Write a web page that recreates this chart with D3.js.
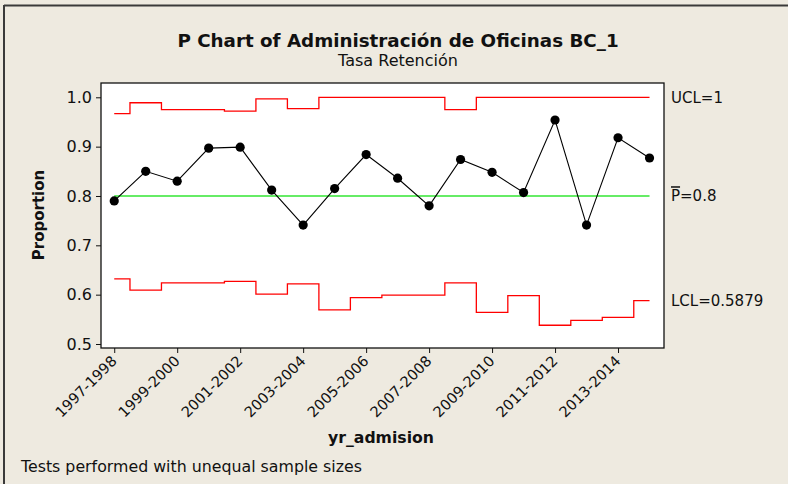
<!DOCTYPE html>
<html>
<head>
<meta charset="utf-8">
<script src="https://cdn.jsdelivr.net/npm/d3@7"></script>
<style>
  html, body { margin: 0; padding: 0; background: #eeeae0; }
  svg { display: block; }
  text { font-family: "DejaVu Sans", Verdana, sans-serif; fill: #111; }
</style>
</head>
<body>
<svg id="chart" width="788" height="484"></svg>
<script>
// ---- data ----
const categories = ["1997-1998","1998-1999","1999-2000","2000-2001","2001-2002","2002-2003",
  "2003-2004","2004-2005","2005-2006","2006-2007","2007-2008","2008-2009","2009-2010",
  "2010-2011","2011-2012","2012-2013","2013-2014","2014-2015"];
const proportion = [0.790,0.850,0.830,0.897,0.899,0.812,0.741,0.815,0.884,0.836,0.780,0.874,
  0.848,0.807,0.954,0.741,0.918,0.877];
const ucl = [0.967,0.989,0.975,0.975,0.972,0.997,0.977,1.0,1.0,1.0,1.0,0.975,1.0,1.0,1.0,1.0,1.0,1.0];
const lcl = [0.632,0.609,0.624,0.624,0.627,0.601,0.622,0.569,0.594,0.599,0.599,0.624,0.564,
  0.598,0.538,0.548,0.554,0.5879];
const pBar = 0.8;
const yTicks = [0.5,0.6,0.7,0.8,0.9,1.0];
const xTickIdx = [0,2,4,6,8,10,12,14,16];

// ---- layout ----
const svg = d3.select("#chart");
const L = 101, R = 664, T = 83, B = 348;

// frame border (top & left of screenshot)
svg.append("line").attr("x1",4).attr("x2",788).attr("y1",5.5).attr("y2",5.5)
  .attr("stroke","#3a3a3a").attr("stroke-width",2);
svg.append("line").attr("x1",4).attr("x2",4).attr("y1",5).attr("y2",484)
  .attr("stroke","#3a3a3a").attr("stroke-width",2);

const x = d3.scaleLinear().domain([-0.42, 17.46]).range([L, R]);
const y = d3.scaleLinear().domain([0.4919, 1.029]).range([B, T]);

// plot background
svg.append("rect").attr("x",L).attr("y",T).attr("width",R-L).attr("height",B-T)
  .attr("fill","#ffffff");

// titles
svg.append("text").attr("x",398).attr("y",47).attr("text-anchor","middle")
  .style("font-weight","bold").style("font-size","18.3px")
  .text("P Chart of Administración de Oficinas BC_1");
svg.append("text").attr("x",398).attr("y",66).attr("text-anchor","middle")
  .style("font-size","16px").text("Tasa Retención");

// step line helper
function stepPoints(vals){
  const pts = [];
  vals.forEach((v,i)=>{
    const x0 = i===0 ? 0 : i-0.5;
    const x1 = i===vals.length-1 ? vals.length-1 : i+0.5;
    pts.push([x0,v],[x1,v]);
  });
  return pts;
}
const line = d3.line().x(d=>x(d[0])).y(d=>y(d[1]));

svg.append("path").datum(stepPoints(ucl)).attr("d",line)
  .attr("fill","none").attr("stroke","#ff0000").attr("stroke-width",1.3);
svg.append("path").datum(stepPoints(lcl)).attr("d",line)
  .attr("fill","none").attr("stroke","#ff0000").attr("stroke-width",1.3);

// center line
svg.append("line").attr("x1",x(0)).attr("x2",x(proportion.length-1))
  .attr("y1",y(pBar)).attr("y2",y(pBar))
  .attr("stroke","#33e633").attr("stroke-width",1.3);

// data line + points
svg.append("path").datum(proportion)
  .attr("d", d3.line().x((d,i)=>x(i)).y(d=>y(d)))
  .attr("fill","none").attr("stroke","#000").attr("stroke-width",1.1);
svg.selectAll("circle.pt").data(proportion).join("circle")
  .attr("class","pt").attr("cx",(d,i)=>x(i)).attr("cy",d=>y(d)).attr("r",4.6)
  .attr("fill","#000");

// plot frame
svg.append("rect").attr("x",L).attr("y",T).attr("width",R-L).attr("height",B-T)
  .attr("fill","none").attr("stroke","#111").attr("stroke-width",1.3);

// y axis
const yAxis = svg.append("g").attr("transform",`translate(${L},0)`)
  .call(d3.axisLeft(y).tickValues(yTicks).tickFormat(d3.format(".1f")).tickSize(5).tickPadding(4));
yAxis.select(".domain").remove();
yAxis.selectAll("text").style("font-size","16px").style("font-family","DejaVu Sans").attr("fill","#111");
yAxis.selectAll("line").attr("stroke","#111");

// x axis
const xAxis = svg.append("g").attr("transform",`translate(0,${B})`)
  .call(d3.axisBottom(x).tickValues(xTickIdx).tickFormat(i=>categories[i]).tickSize(5));
xAxis.select(".domain").remove();
xAxis.selectAll("line").attr("stroke","#111");
xAxis.selectAll("text")
  .attr("x",0).attr("y",0).attr("dy",0)
  .attr("transform","translate(3,14) rotate(-45)")
  .style("text-anchor","end").style("font-size","14.6px").style("font-family","DejaVu Sans")
  .attr("fill","#111");

// axis titles
svg.append("text").attr("transform","translate(44,215) rotate(-90)")
  .attr("text-anchor","middle").style("font-weight","bold").style("font-size","15px")
  .text("Proportion");
svg.append("text").attr("x",381).attr("y",443).attr("text-anchor","middle")
  .style("font-weight","bold").style("font-size","15.7px").text("yr_admision");

// right labels
const lastI = proportion.length-1;
svg.append("text").attr("x",671).attr("y",y(ucl[lastI])).attr("dy","0.35em")
  .style("font-size","15px").text("UCL=1");
const pl = svg.append("text").attr("x",671).attr("y",y(pBar)).attr("dy","0.35em")
  .style("font-size","15px");
pl.append("tspan").style("text-decoration","overline").text("P");
pl.append("tspan").text("=0.8");
svg.append("text").attr("x",671).attr("y",y(lcl[lastI])).attr("dy","0.35em")
  .style("font-size","15px").text("LCL=0.5879");

// footer
svg.append("text").attr("x",21).attr("y",472).style("font-size","15.8px")
  .text("Tests performed with unequal sample sizes");
</script>
</body>
</html>
